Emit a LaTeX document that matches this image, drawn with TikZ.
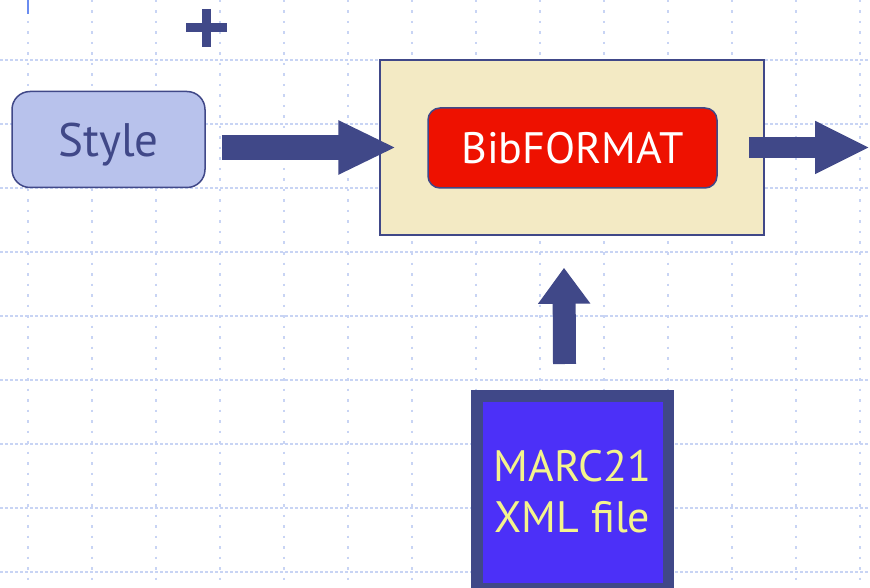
\documentclass[tikz,border=0pt]{standalone}
\usepackage{fontspec}
\setmainfont{PT Sans}
\usetikzlibrary{arrows.meta, positioning}
\definecolor{navy}{HTML}{404888}
\definecolor{lilac}{HTML}{B8C2EC}
\definecolor{beige}{HTML}{F3EAC4}
\definecolor{bibred}{HTML}{EE1100}
\definecolor{marcblue}{HTML}{4C30F8}
\definecolor{lemon}{HTML}{F4F48C}
\definecolor{gridblue}{HTML}{C8D4F4}
\definecolor{tickblue}{HTML}{6A8CF0}
\tikzstyle{gridh} = [gridblue, line width=1.5pt, dash pattern=on 2.5pt off 2.5pt]
\tikzstyle{gridv} = [gridblue, line width=1.5pt, dash pattern=on 2.5pt off 8pt]
\tikzstyle{stylebox} = [rectangle, rounded corners=18pt, minimum width=193pt, minimum height=96pt, draw=navy, line width=1.5pt, fill=lilac, text=navy, text depth=0pt, font=\fontsize{47}{50}\selectfont]
\tikzstyle{engine} = [rectangle, minimum width=384pt, minimum height=175pt, draw=navy, line width=1.5pt, fill=beige]
\tikzstyle{core} = [rectangle, rounded corners=12pt, minimum width=289pt, minimum height=80pt, draw=navy, line width=1.5pt, fill=bibred, text=white, font=\fontsize{44}{48}\selectfont]
\tikzstyle{source} = [rectangle, minimum width=191.5pt, minimum height=192.5pt, draw=navy, line width=11.5pt, fill=marcblue, text=lemon, align=center, font=\fontsize{44}{51}\selectfont]
\tikzstyle{fatarrow} = [navy, line width=25pt, -{Triangle[length=58pt, width=50pt]}]

\begin{document}
\begin{tikzpicture}[x=1pt, y=-1pt]
   \useasboundingbox (0,0) rectangle (870,588);
   \fill[white] (0,0) rectangle (870,588);
   % background grid
   \foreach \gx in {28,92,...,860} \draw[gridv] (\gx,0) -- (\gx,588);
   \foreach \gy in {60,124,...,572} \draw[gridh] (0,\gy) -- (870,\gy);
   \draw[tickblue, line width=1.5pt] (28,0) -- (28,14);
   \draw[navy, line width=9pt] (186,27.5) -- (227,27.5) (206.5,9) -- (206.5,47);

   \node (style) [stylebox] at (108.5,139.5) {Style};
   \node (engine) [engine] at (572,147.5) {};
   \node (bibformat) [core] at (572.5,148) {BibFORMAT};
   \node (marc) [source] at (572.5,492) {MARC21\\XML file};
   \coordinate (exit) at (870,147.5);

   \draw [fatarrow] ([xshift=16pt]style.east |- engine.west) -- ([xshift=17pt]engine.west);
   \draw [fatarrow, line width=21pt, -{Triangle[length=55pt, width=49pt]}] ([xshift=-16pt]engine.east) -- (exit);
   \draw [fatarrow, line width=23pt, -{Triangle[length=36pt, width=50pt]}] ([xshift=-8pt, yshift=26pt]marc.north) -- ([xshift=-8pt, yshift=-32pt]engine.south);
\end{tikzpicture}
\end{document}
